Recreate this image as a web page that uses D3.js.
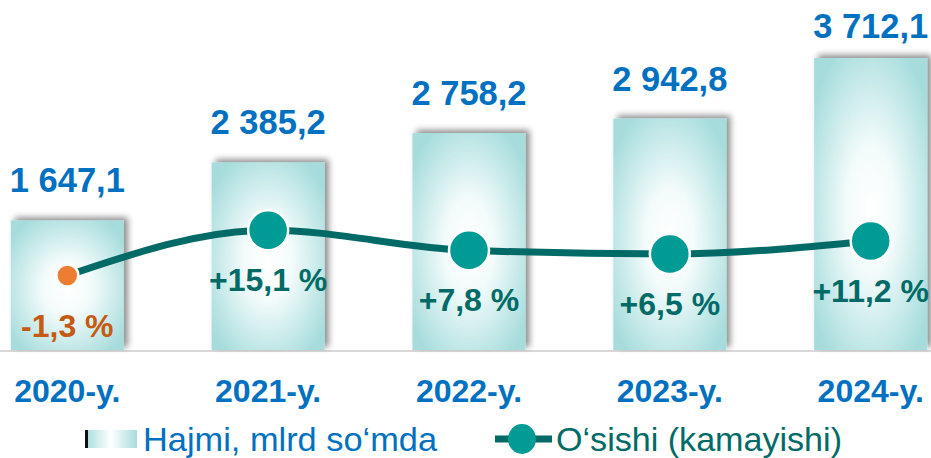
<!DOCTYPE html>
<html lang="en">
<head>
  <meta charset="utf-8">
  <title>Hajmi va o'sishi</title>
  <script type="text/javascript" src="https://d3js.org/d3.v7.min.js"></script>
  <style type="text/css">
    body { margin: 0; background: #fff; }
    svg { display: block; font-family: Arial, "Liberation Sans", sans-serif; }
  </style>
</head>
<body>
  <div id="chart"></div>
  <script type="text/javascript">

    // data
    const years = ['2020-y.', '2021-y.', '2022-y.', '2023-y.', '2024-y.'];
    const volume = [1647.1, 2385.2, 2758.2, 2942.8, 3712.1];
    const growth = [-1.3, 15.1, 7.8, 6.5, 11.2];
    const legendLabels = ['Hajmi, mlrd so‘mda', 'O‘sishi (kamayishi)'];

    const width = 931, height = 458;
    const baseY = 350;

    const blue = '#0070c0', teal = '#009b95', darkTeal = '#006b66', orange = '#ed7d31';

    // number format with space thousands and comma decimal
    const fmtVol = v => {
      let s = v.toFixed(1).replace('.', ',');
      return s.replace(/^(\d)(\d{3})/, '$1 $2');
    };
    const fmtGrowth = v => (v > 0 ? '+' : '') + v.toFixed(1).replace('.', ',') + ' %';

    const svg = d3.select('#chart').append('svg')
      .attr('width', width)
      .attr('height', height);

    const defs = svg.append('defs');
    const grad = defs.append('radialGradient')
      .attr('id', 'barGrad')
      .attr('cx', '50%').attr('cy', '52%').attr('r', '62%');
    grad.append('stop').attr('offset', '0%').attr('stop-color', '#ffffff');
    grad.append('stop').attr('offset', '35%').attr('stop-color', '#f3fbfb');
    grad.append('stop').attr('offset', '100%').attr('stop-color', '#a6dcdc');

    const legGrad = defs.append('linearGradient').attr('id', 'legGrad');
    legGrad.append('stop').attr('offset', '0%').attr('stop-color', '#a6dcdc');
    legGrad.append('stop').attr('offset', '50%').attr('stop-color', '#ffffff');
    legGrad.append('stop').attr('offset', '100%').attr('stop-color', '#a6dcdc');

    const shadow = defs.append('filter').attr('id', 'shadow')
      .attr('x', '-20%').attr('y', '-20%').attr('width', '140%').attr('height', '140%');
    shadow.append('feDropShadow')
      .attr('dx', 4).attr('dy', -3).attr('stdDeviation', 3)
      .attr('flood-color', '#000').attr('flood-opacity', 0.45);

    // scales
    const x = d3.scaleBand()
      .domain(years)
      .range([-77, 1015])
      .padding(0.437);

    const y = d3.scaleLinear()
      .domain([0, 3712.1])
      .range([baseY, 58]);

    const y2 = d3.scaleLinear()
      .domain([-1.3, 15.1])
      .range([275.5, 230.2]);

    // baseline
    svg.append('line')
      .attr('x1', 0).attr('x2', width)
      .attr('y1', baseY + 1).attr('y2', baseY + 1)
      .attr('stroke', '#d9d9d9').attr('stroke-width', 2);

    // bars
    svg.selectAll('rect.bar')
      .data(volume)
      .enter()
      .append('rect')
      .attr('class', 'bar')
      .attr('x', (d, i) => x(years[i]))
      .attr('y', d => y(d))
      .attr('width', x.bandwidth())
      .attr('height', d => baseY - y(d))
      .attr('fill', 'url(#barGrad)')
      .attr('filter', 'url(#shadow)');

    // volume labels
    svg.selectAll('text.vol')
      .data(volume)
      .enter()
      .append('text')
      .attr('class', 'vol')
      .attr('x', (d, i) => x(years[i]) + x.bandwidth() / 2)
      .attr('y', d => Math.max(y(d) - 28, 38))
      .attr('text-anchor', 'middle')
      .attr('font-size', 34.5)
      .attr('font-weight', 'bold')
      .attr('fill', blue)
      .text(d => fmtVol(d));

    // category labels
    svg.selectAll('text.cat')
      .data(years)
      .enter()
      .append('text')
      .attr('class', 'cat')
      .attr('x', d => x(d) + x.bandwidth() / 2)
      .attr('y', 402)
      .attr('text-anchor', 'middle')
      .attr('font-size', 32)
      .attr('font-weight', 'bold')
      .attr('fill', blue)
      .text(d => d);

    // growth line
    const cx = i => x(years[i]) + x.bandwidth() / 2;
    const line = d3.line()
      .x((d, i) => cx(i))
      .y(d => y2(d))
      .curve(d3.curveMonotoneX);

    svg.append('path')
      .datum(growth)
      .attr('d', line)
      .attr('fill', 'none')
      .attr('stroke', darkTeal)
      .attr('stroke-width', 7);

    svg.selectAll('circle.pt')
      .data(growth)
      .enter()
      .append('circle')
      .attr('class', 'pt')
      .attr('cx', (d, i) => cx(i))
      .attr('cy', d => y2(d))
      .attr('r', d => d < 0 ? 11 : 20)
      .attr('fill', d => d < 0 ? orange : teal)
      .attr('stroke', '#fff')
      .attr('stroke-width', 2.5);

    svg.selectAll('text.gr')
      .data(growth)
      .enter()
      .append('text')
      .attr('class', 'gr')
      .attr('x', (d, i) => cx(i))
      .attr('y', d => y2(d) + 61)
      .attr('text-anchor', 'middle')
      .attr('font-size', 32)
      .attr('font-weight', 'bold')
      .attr('fill', d => d < 0 ? '#c55a11' : darkTeal)
      .text(d => fmtGrowth(d));

    // legend
    const legY = 439;
    svg.append('rect')
      .attr('x', 85).attr('y', legY - 9)
      .attr('width', 52).attr('height', 18)
      .attr('fill', 'url(#legGrad)');
    svg.append('rect')
      .attr('x', 85).attr('y', legY - 9)
      .attr('width', 3).attr('height', 18)
      .attr('fill', '#111');
    svg.append('text')
      .attr('x', 143).attr('y', 451)
      .attr('font-size', 33)
      .attr('textLength', 294)
      .attr('lengthAdjust', 'spacingAndGlyphs')
      .attr('fill', blue)
      .text(legendLabels[0]);

    svg.append('line')
      .attr('x1', 495).attr('x2', 552)
      .attr('y1', legY).attr('y2', legY)
      .attr('stroke', darkTeal).attr('stroke-width', 7);
    svg.append('ellipse')
      .attr('cx', 522).attr('cy', legY).attr('rx', 14).attr('ry', 15)
      .attr('fill', teal);
    svg.append('text')
      .attr('x', 556).attr('y', 451)
      .attr('font-size', 33)
      .attr('textLength', 286)
      .attr('lengthAdjust', 'spacingAndGlyphs')
      .attr('fill', darkTeal)
      .text(legendLabels[1]);

  </script>
</body>
</html>
